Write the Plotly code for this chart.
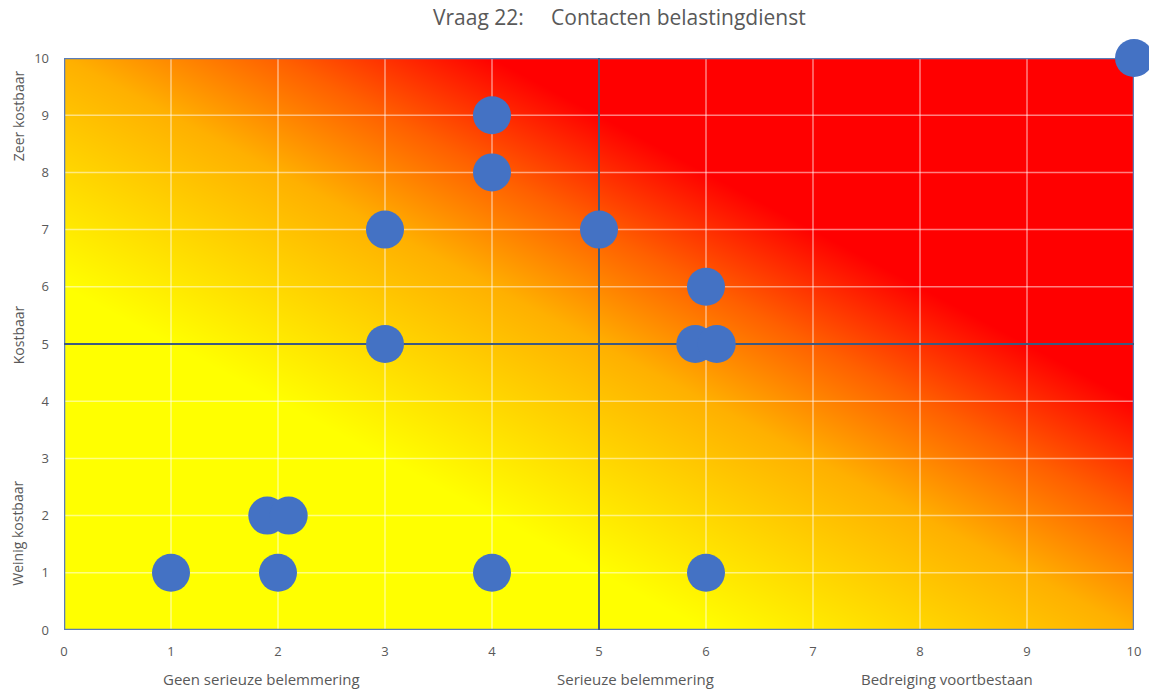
import plotly.graph_objects as go

# scores per answer: belemmering (x) vs kosten (y)
belemmering = [1, 2, 4, 6, 1.9, 2.1, 3, 3, 4, 4, 5, 6, 5.9, 6.1, 10]
kosten = [1, 1, 1, 1, 2, 2, 5, 7, 8, 9, 7, 6, 5, 5, 10]

ticks = list(range(0, 11))
x_labels = ["Geen serieuze belemmering", "Serieuze belemmering", "Bedreiging voortbestaan"]
x_label_pos = [1.85, 5.34, 8.25]
y_labels = ["Zeer kostbaar", "Kostbaar", "Weinig kostbaar"]
y_label_pos = [9.0, 5.17, 1.7]

fig = go.Figure()

# diagonal yellow -> red background
fig.add_trace(go.Heatmap(
    x=[ticks[0], ticks[-1]], y=[ticks[0], ticks[-1]],
    z=[[0, 10], [10, 20]], zmin=0, zmax=20, zsmooth="best",
    colorscale=[[0, "#FFFF00"], [0.3, "#FFFF00"], [0.5, "#FFB000"], [0.6, "#FF6000"],
                [0.7, "#FF0000"], [1, "#FF0000"]],
    showscale=False, hoverinfo="skip"))

# light grid lines on top of the background
gx, gy = [], []
for t in ticks[1:-1]:
    gx += [t, t, None]
    gy += [ticks[0], ticks[-1], None]
    gx += [ticks[0], ticks[-1], None]
    gy += [t, t, None]
fig.add_trace(go.Scatter(x=gx, y=gy, mode="lines", line=dict(color="rgba(255,255,255,0.5)", width=1.5),
                         hoverinfo="skip", showlegend=False))

# border
lo, hi = ticks[0], ticks[-1]
fig.add_trace(go.Scatter(x=[lo, hi, hi, lo, lo], y=[lo, lo, hi, hi, lo], mode="lines",
                         line=dict(color="#5A7DB8", width=2.5), hoverinfo="skip", showlegend=False))

# quadrant lines
mid = 5
fig.add_trace(go.Scatter(x=[mid, mid, None, lo, hi], y=[lo, hi, None, mid, mid], mode="lines",
                         line=dict(color="#3E5A80", width=2), hoverinfo="skip", showlegend=False))

fig.add_trace(go.Scatter(x=belemmering, y=kosten, mode="markers", cliponaxis=False,
                         marker=dict(size=38, color="#4472C4", line=dict(width=0)),
                         showlegend=False))

for txt, xp in zip(x_labels, x_label_pos):
    fig.add_annotation(text=txt, x=xp, xref="x", y=-0.085, yref="paper", yanchor="middle",
                       showarrow=False, font=dict(size=15, color="#595959"))
for txt, yp in zip(y_labels, y_label_pos):
    fig.add_annotation(text=txt, y=yp, yref="y", x=-0.043, xref="paper", xanchor="center",
                       textangle=-90, showarrow=False, font=dict(size=14, color="#595959"))

fig.update_layout(
    width=1149, height=689,
    margin=dict(l=64, r=15, t=58, b=59, autoexpand=False),
    paper_bgcolor="white", plot_bgcolor="white",
    font=dict(family="Open Sans", color="#595959", size=12),
    title=dict(text="Vraag 22:&nbsp;&nbsp;&nbsp;&nbsp;&nbsp;Contacten belastingdienst", x=0.519, xref="paper",
               xanchor="center", y=0.974, yref="container", yanchor="middle",
               font=dict(size=21, color="#595959")),
    xaxis=dict(range=[lo, hi], tickvals=ticks, showgrid=False, zeroline=False, showline=False,
               ticks="", ticklabelstandoff=12, tickfont=dict(size=13, color="#595959")),
    yaxis=dict(range=[lo, hi], tickvals=ticks, showgrid=False, zeroline=False, showline=False,
               ticks="", ticklabelstandoff=14, tickfont=dict(size=13, color="#595959")),
)

# drop the default page margin so the figure fills the window
fig.write_html("out.html", config={"displayModeBar": False},
               post_script="document.body.style.margin='0';")
